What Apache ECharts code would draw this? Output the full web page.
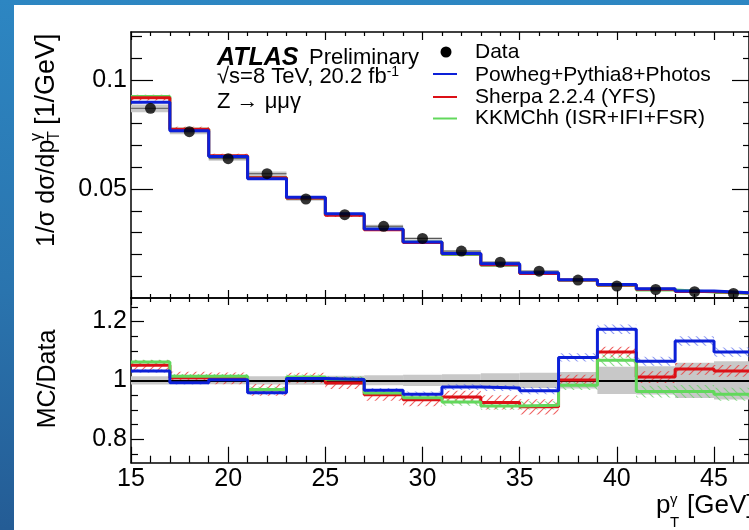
<!DOCTYPE html>
<html>
<head>
<meta charset="utf-8">
<script src="https://cdn.jsdelivr.net/npm/echarts@6/dist/echarts.min.js"></script>
<style>
  html, body { margin: 0; padding: 0; }
  body { width: 749px; height: 530px; overflow: hidden; position: relative;
         background: linear-gradient(180deg, #2d86c2 0%, #2a74ae 55%, #245c95 100%); }
  #paper { position: absolute; left: 14px; top: 5px; width: 735px; height: 525px; background: #fff; }
  #chart { position: absolute; left: 0; top: 0; width: 749px; height: 530px; }
</style>
</head>
<body>
<div id="paper"></div>
<div id="chart"></div>
<script>
// pT(gamma) bins, 2 GeV wide
const binEdges = [15, 17, 19, 21, 23, 25, 27, 29, 31, 33, 35, 37, 39, 41, 43, 45, 47];
const binCenters = [16, 18, 20, 22, 24, 26, 28, 30, 32, 34, 36, 38, 40, 42, 44, 46];

// upper panel: 1/sigma dsigma/dpT
const dataVals = [0.0870, 0.0763, 0.0639, 0.0570, 0.0454, 0.0382, 0.0329, 0.0273, 0.0215, 0.0164, 0.0123, 0.0082, 0.0055, 0.0039, 0.0029, 0.0021];
const dataErr  = [0.0018, 0.0012, 0.0010, 0.0010, 0.0008, 0.0008, 0.0007, 0.0006, 0.0005, 0.0005, 0.0004, 0.0004, 0.0003, 0.0003, 0.0003, 0.0003];
const powheg   = [0.0898, 0.0767, 0.0649, 0.0547, 0.0462, 0.0386, 0.0317, 0.0257, 0.0204, 0.0157, 0.0116, 0.0084, 0.0062, 0.0042, 0.0032, 0.0023];
const sherpa   = [0.0919, 0.0774, 0.0652, 0.0551, 0.0459, 0.0379, 0.0313, 0.0255, 0.0203, 0.0152, 0.0112, 0.0082, 0.0060, 0.0040, 0.0030, 0.0022];
const sherpaErr = [0.0013, 0.0011, 0.0010, 0.0009, 0.0008, 0.0007, 0.0006, 0.0005, 0.0005, 0.0004, 0.0004, 0.0003, 0.0003, 0.0003, 0.0003, 0.0003];
const kkmc     = [0.0924, 0.0774, 0.0650, 0.0553, 0.0459, 0.0383, 0.0315, 0.0257, 0.0199, 0.0150, 0.0113, 0.0081, 0.0059, 0.0037, 0.0028, 0.0020];

// lower panel: MC/Data
const ratioDataErr = [0.014, 0.013, 0.013, 0.014, 0.015, 0.016, 0.017, 0.019, 0.021, 0.024, 0.026, 0.028, 0.046, 0.048, 0.060, 0.065];
const ratioPowheg  = [1.032, 0.992, 1.002, 0.958, 1.006, 1.003, 0.966, 0.953, 0.977, 0.974, 0.965, 1.078, 1.174, 1.065, 1.134, 1.096];
const ratioPowhegErr = [0.006, 0.006, 0.006, 0.007, 0.007, 0.008, 0.008, 0.009, 0.010, 0.010, 0.012, 0.014, 0.016, 0.015, 0.016, 0.016];
const ratioSherpa  = [1.051, 1.009, 1.007, 0.968, 1.008, 0.991, 0.951, 0.934, 0.943, 0.925, 0.910, 1.001, 1.096, 1.011, 1.039, 1.032];
const ratioSherpaErr = [0.018, 0.020, 0.020, 0.020, 0.018, 0.020, 0.020, 0.022, 0.022, 0.024, 0.026, 0.018, 0.018, 0.020, 0.020, 0.020];
const ratioKkmc    = [1.062, 1.014, 1.014, 0.969, 1.011, 1.004, 0.957, 0.941, 0.926, 0.913, 0.915, 0.983, 1.068, 0.962, 0.962, 0.953];
const ratioKkmcErr = [0.008, 0.008, 0.008, 0.009, 0.009, 0.010, 0.010, 0.011, 0.012, 0.013, 0.014, 0.016, 0.020, 0.020, 0.022, 0.022];

// tick values
const xMajor = [15, 20, 25, 30, 35, 40, 45];
const xMinor = [16, 17, 18, 19, 21, 22, 23, 24, 26, 27, 28, 29, 31, 32, 33, 34, 36, 37, 38, 39, 41, 42, 43, 44, 46];
const yTopMajor = [0.05, 0.1];
const yTopMinor = [0.01, 0.02, 0.03, 0.04, 0.06, 0.07, 0.08, 0.09, 0.11, 0.12];
const yLowMajor = [0.8, 1, 1.2];
const yLowMinor = [0.75, 0.85, 0.9, 0.95, 1.05, 1.1, 1.15, 1.25];

const FONT = 'Liberation Sans, Arial, Helvetica, sans-serif';
const BLUE = '#0c20d8', RED = '#dc1016', GREEN = '#62d85c';
const X_MIN = 15, X_MAX = 46.8;

function hatch(color, back) {
    let c = document.createElement('canvas');
    c.width = 8; c.height = 8;
    let g = c.getContext('2d');
    g.strokeStyle = color;
    g.lineWidth = 1.1;
    g.beginPath();
    if (back) {
        g.moveTo(0, 0); g.lineTo(8, 8);
        g.moveTo(-1, 7); g.lineTo(1, 9);
        g.moveTo(7, -1); g.lineTo(9, 1);
    } else {
        g.moveTo(0, 8); g.lineTo(8, 0);
        g.moveTo(-1, 1); g.lineTo(1, -1);
        g.moveTo(7, 9); g.lineTo(9, 7);
    }
    g.stroke();
    return {image: c, repeat: 'repeat'};
}

function axis(gridIndex, position, ticks, len, withLine, extra) {
    let a = {
        type: 'value', gridIndex: gridIndex, position: position,
        axisLine: {show: withLine, onZero: false, lineStyle: {color: '#000', width: 1.5}},
        axisTick: {show: true, inside: true, length: len, customValues: ticks, lineStyle: {color: '#000', width: 1.2}},
        axisLabel: {show: false},
        splitLine: {show: false}
    };
    return Object.assign(a, extra);
}

const xr = {min: X_MIN, max: X_MAX};
const yTop = {min: 0, max: 0.122};
const yLow = {min: 0.72, max: 1.28};
const lbl = (vals) => ({axisLabel: {show: true, customValues: vals, color: '#000', fontSize: 25, fontFamily: FONT, margin: 4}});

// band item: [lo edge, hi edge, centre, half width]
function bandData(vals, errs) {
    return binCenters.map((c, i) => [binEdges[i], binEdges[i + 1], vals[i], errs[i]]);
}
function bandRender(fill, midLine) {
    return function (params, api) {
        let a = api.coord([api.value(0), api.value(2) + api.value(3)]);
        let b = api.coord([api.value(1), api.value(2) - api.value(3)]);
        let cs = params.coordSys;
        let rect = echarts.graphic.clipRectByRect(
            {x: a[0], y: a[1], width: b[0] - a[0], height: b[1] - a[1]},
            {x: cs.x, y: cs.y, width: cs.width, height: cs.height});
        if (!rect) return null;
        let kids = [{type: 'rect', shape: rect, style: {fill: fill}}];
        if (midLine) {
            let m = api.coord([api.value(0), api.value(2)]);
            kids.push({type: 'line', shape: {x1: rect.x, y1: m[1], x2: rect.x + rect.width, y2: m[1]},
                style: {stroke: '#555', lineWidth: 1}});
        }
        return {type: 'group', children: kids};
    };
}
function band(name, vals, errs, fill, idx, z, midLine) {
    return {
        name: name, type: 'custom', xAxisIndex: idx, yAxisIndex: idx, z: z, silent: true,
        renderItem: bandRender(fill, midLine), data: bandData(vals, errs)
    };
}
function step(name, vals, color, idx, z) {
    return {
        name: name, type: 'line', step: 'end', xAxisIndex: idx, yAxisIndex: idx, z: z,
        symbol: 'none', clip: true, silent: true,
        lineStyle: {color: color, width: 3},
        data: binEdges.map((e, i) => [e, vals[Math.min(i, vals.length - 1)]])
    };
}

const txt = (x, y, text, size, extra) => ({
    type: 'text', x: x, y: y, silent: true,
    style: Object.assign({text: text, fill: '#000', fontSize: size, fontFamily: FONT, align: 'left', verticalAlign: 'middle'}, extra || {})
});

let chart = echarts.init(document.getElementById('chart'), null, {renderer: 'canvas'});
chart.setOption({
    animation: false,
    backgroundColor: 'transparent',
    grid: [
        {left: 131, right: -2, top: 32, height: 266},
        {left: 131, right: -2, top: 298, height: 164.7}
    ],
    xAxis: [
        axis(0, 'bottom', xMajor, 8, true, xr),
        axis(0, 'bottom', xMinor, 4, false, xr),
        axis(0, 'top', xMajor, 8, true, xr),
        axis(0, 'top', xMinor, 4, false, xr),
        axis(1, 'bottom', xMajor, 16, true, Object.assign({}, xr, lbl(xMajor))),
        axis(1, 'bottom', xMinor, 7, false, xr),
        axis(1, 'top', xMajor, 7, true, xr),
        axis(1, 'top', xMinor, 4, false, xr)
    ],
    yAxis: [
        axis(0, 'left', yTopMajor, 22, true, Object.assign({}, yTop, lbl(yTopMajor))),
        axis(0, 'left', yTopMinor, 11, false, yTop),
        axis(0, 'right', yTopMajor, 17, true, yTop),
        axis(0, 'right', yTopMinor, 6, false, yTop),
        axis(1, 'left', yLowMajor, 13, true, Object.assign({}, yLow, lbl(yLowMajor))),
        axis(1, 'left', yLowMinor, 7, false, yLow),
        axis(1, 'right', yLowMajor, 10, true, yLow),
        axis(1, 'right', yLowMinor, 5, false, yLow)
    ],
    series: [
        // upper panel
        band('Data unc.', dataVals, dataErr, '#c8c8c8', 0, 1, true),
        band('Sherpa unc.', sherpa, sherpaErr, hatch('rgba(230,50,50,0.85)', false), 0, 2, false),
        step('KKMChh (ISR+IFI+FSR)', kkmc, GREEN, 0, 3),
        step('Sherpa 2.2.4 (YFS)', sherpa, RED, 0, 3),
        step('Powheg+Pythia8+Photos', powheg, BLUE, 0, 3),
        {
            name: 'Data', type: 'scatter', xAxisIndex: 0, yAxisIndex: 0, z: 5, silent: true,
            symbol: 'circle', symbolSize: 11, itemStyle: {color: '#000'},
            data: binCenters.map((c, i) => [c, dataVals[i]])
        },
        // lower panel
        band('Data ratio unc.', binCenters.map(() => 1), ratioDataErr, '#c8c8c8', 4, 1, false),
        band('Sherpa ratio unc.', ratioSherpa, ratioSherpaErr, hatch('rgba(235,60,60,0.8)', false), 4, 2, false),
        band('KKMChh ratio unc.', ratioKkmc, ratioKkmcErr, hatch('rgba(110,210,110,0.8)', true), 4, 2, false),
        band('Powheg ratio unc.', ratioPowheg, ratioPowhegErr, hatch('rgba(70,90,235,0.6)', true), 4, 2, false),
        Object.assign(step('Sherpa 2.2.4 (YFS) / Data', ratioSherpa, RED, 4, 3), {
            markLine: {
                silent: true, symbol: 'none', z: 2.5, animation: false,
                label: {show: false},
                lineStyle: {color: '#000', width: 2, type: 'solid'},
                data: [{yAxis: 1}]
            }
        }),
        step('KKMChh / Data', ratioKkmc, GREEN, 4, 3),
        step('Powheg / Data', ratioPowheg, BLUE, 4, 3)
    ],
    graphic: [
        // y-axis titles
        {
            type: 'group', x: 47, y: 247, rotation: Math.PI / 2, silent: true,
            children: [
                txt(0, 0, '1/σ dσ/dp', 25),
                txt(106, 8, 'T', 16),
                txt(106, -10, 'γ', 16),
                txt(122, 0, '[1/GeV]', 27)
            ]
        },
        {
            type: 'group', x: 48, y: 379, rotation: Math.PI / 2, silent: true,
            children: [txt(0, 0, 'MC/Data', 25, {align: 'center'})]
        },
        // x-axis title
        txt(656, 506, 'p', 26),
        txt(670, 523, 'T', 15),
        txt(670, 500, 'γ', 15),
        txt(687, 506, '[GeV]', 26),
        // ATLAS label
        txt(217, 58, 'ATLAS', 25, {fontWeight: 'bold', fontStyle: 'italic'}),
        txt(309, 58, 'Preliminary', 22),
        {
            type: 'text', x: 217, y: 77, silent: true,
            style: {
                text: '{n|√s=8 TeV, 20.2 fb}{s|-1}', verticalAlign: 'middle', align: 'left',
                rich: {
                    n: {fontSize: 22, fontFamily: FONT, color: '#000', lineHeight: 24},
                    s: {fontSize: 14, fontFamily: FONT, color: '#000', lineHeight: 14, verticalAlign: 'top'}
                }
            }
        },
        txt(217, 102, 'Z → μμγ', 22),
        // legend
        {type: 'circle', silent: true, shape: {cx: 446, cy: 52, r: 5.5}, style: {fill: '#000'}},
        {type: 'line', silent: true, shape: {x1: 433, y1: 74, x2: 457, y2: 74}, style: {stroke: BLUE, lineWidth: 2}},
        {type: 'line', silent: true, shape: {x1: 433, y1: 97, x2: 457, y2: 97}, style: {stroke: RED, lineWidth: 2}},
        {type: 'line', silent: true, shape: {x1: 433, y1: 118.5, x2: 457, y2: 118.5}, style: {stroke: GREEN, lineWidth: 2}},
        txt(475, 52, 'Data', 21),
        txt(475, 75, 'Powheg+Pythia8+Photos', 21),
        txt(475, 97, 'Sherpa 2.2.4 (YFS)', 21),
        txt(475, 118, 'KKMChh (ISR+IFI+FSR)', 21)
    ]
});
</script>
</body>
</html>
